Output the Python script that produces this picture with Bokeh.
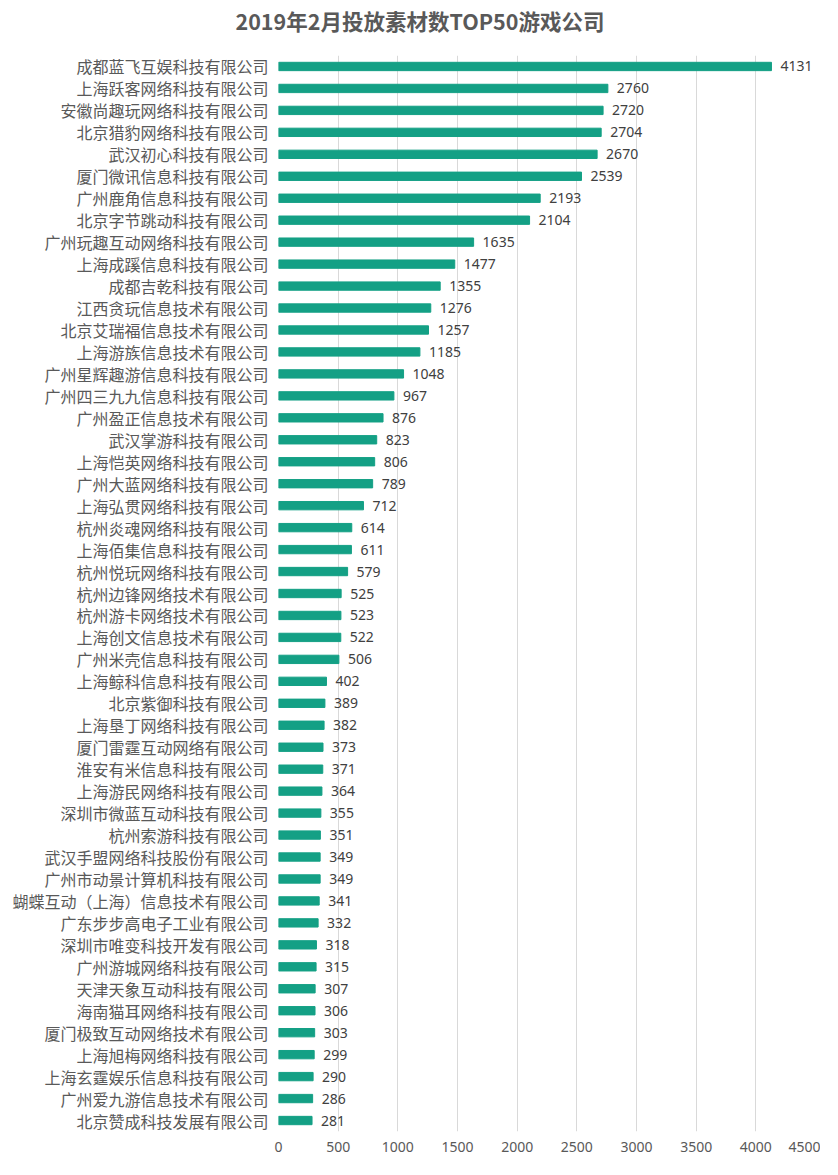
from bokeh.plotting import figure
from bokeh.models import ColumnDataSource, LabelSet, Title, FactorRange, Range1d, FixedTicker
from bokeh.core.properties import value
from bokeh.embed import file_html
from bokeh.resources import INLINE

title_text = "2019年2月投放素材数TOP50游戏公司"

companies = [
    "成都蓝飞互娱科技有限公司", "上海跃客网络科技有限公司", "安徽尚趣玩网络科技有限公司",
    "北京猎豹网络科技有限公司", "武汉初心科技有限公司", "厦门微讯信息科技有限公司",
    "广州鹿角信息科技有限公司", "北京字节跳动科技有限公司", "广州玩趣互动网络科技有限公司",
    "上海成蹊信息科技有限公司", "成都吉乾科技有限公司", "江西贪玩信息技术有限公司",
    "北京艾瑞福信息技术有限公司", "上海游族信息技术有限公司", "广州星辉趣游信息科技有限公司",
    "广州四三九九信息科技有限公司", "广州盈正信息技术有限公司", "武汉掌游科技有限公司",
    "上海恺英网络科技有限公司", "广州大蓝网络科技有限公司", "上海弘贯网络科技有限公司",
    "杭州炎魂网络科技有限公司", "上海佰集信息科技有限公司", "杭州悦玩网络科技有限公司",
    "杭州边锋网络技术有限公司", "杭州游卡网络技术有限公司", "上海创文信息技术有限公司",
    "广州米壳信息科技有限公司", "上海鲸科信息科技有限公司", "北京紫御科技有限公司",
    "上海垦丁网络科技有限公司", "厦门雷霆互动网络有限公司", "淮安有米信息科技有限公司",
    "上海游民网络科技有限公司", "深圳市微蓝互动科技有限公司", "杭州索游科技有限公司",
    "武汉手盟网络科技股份有限公司", "广州市动景计算机科技有限公司", "蝴蝶互动（上海）信息技术有限公司",
    "广东步步高电子工业有限公司", "深圳市唯变科技开发有限公司", "广州游城网络科技有限公司",
    "天津天象互动科技有限公司", "海南猫耳网络科技有限公司", "厦门极致互动网络技术有限公司",
    "上海旭梅网络科技有限公司", "上海玄霆娱乐信息科技有限公司", "广州爱九游信息技术有限公司",
    "北京赞成科技发展有限公司",
]

counts = [
    4131, 2760, 2720, 2704, 2670, 2539, 2193, 2104, 1635, 1477,
    1355, 1276, 1257, 1185, 1048, 967, 876, 823, 806, 789,
    712, 614, 611, 579, 525, 523, 522, 506, 402, 389,
    382, 373, 371, 364, 355, 351, 349, 349, 341, 332,
    318, 315, 307, 306, 303, 299, 290, 286, 281,
]

x_ticks = [0, 500, 1000, 1500, 2000, 2500, 3000, 3500, 4000, 4500]

FONT = "Noto Sans CJK SC"
NUMFONT = "Noto Sans"
BAR = "#14a085"
TXT = "#595959"

TOP, BOTTOM = 55, 28
FRAME_H = 1076

src = ColumnDataSource(dict(company=companies, count=counts,
                            label=[str(c) for c in counts]))

p = figure(width=820, height=TOP + FRAME_H + BOTTOM,
           y_range=FactorRange(factors=companies[::-1]),
           x_range=Range1d(0, 4500),
           output_backend="svg", toolbar_location=None,
           min_border_left=278, min_border_right=5,
           min_border_top=TOP, min_border_bottom=BOTTOM)

# spacer between the title and the plot area (closest to the frame)
p.add_layout(Title(text=" ", text_font_size="1px", standoff=17), "above")
p.add_layout(Title(text=title_text, align="left", offset=-43, standoff=0,
                   text_font=FONT, text_font_size="21.5px",
                   text_font_style="bold", text_color=TXT), "above")

p.hbar(y="company", left=0, right="count", height=0.38, color=BAR, source=src)

labels = LabelSet(x="count", y="company", text="label", source=src,
                  x_offset=9, text_baseline="middle", text_align="left",
                  text_font=value(NUMFONT), text_font_size=value("14px"),
                  text_color="#404040")
p.add_layout(labels)

p.outline_line_color = None
p.background_fill_color = "white"
p.border_fill_color = "white"

p.xgrid.grid_line_color = "#d9d9d9"
p.xgrid.grid_line_width = 1
p.ygrid.grid_line_color = None

p.xaxis.ticker = FixedTicker(ticks=x_ticks)
for ax in (p.xaxis[0], p.yaxis[0]):
    ax.axis_line_color = None
    ax.major_tick_line_color = None
    ax.major_tick_out = 0
    ax.major_tick_in = 0
    ax.minor_tick_line_color = None
    ax.minor_tick_out = 0
    ax.major_label_text_color = TXT

p.yaxis.major_label_text_font = FONT
p.yaxis.major_label_text_font_size = "16px"
p.yaxis.major_label_standoff = 10
p.xaxis.major_label_text_font = NUMFONT
p.xaxis.major_label_text_font_size = "14px"
p.xaxis.major_label_standoff = 10

open("out.html", "w").write(file_html(p, INLINE))
